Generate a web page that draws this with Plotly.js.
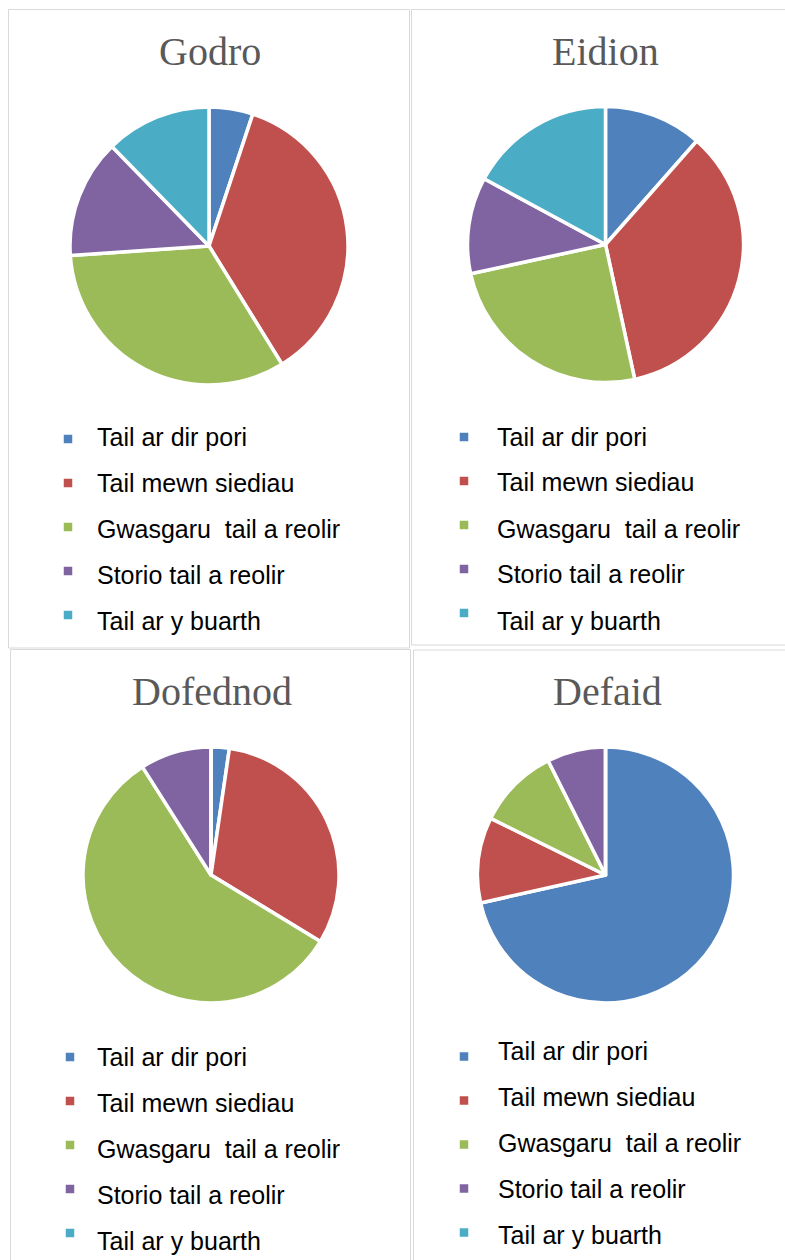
<!DOCTYPE html>
<html>
<head>
<meta charset="utf-8">
<script src="https://cdn.plot.ly/plotly-3.0.1.min.js"></script>
<style>
  html, body { margin: 0; padding: 0; background: #ffffff; }
  #chart { width: 785px; height: 1260px; }
</style>
</head>
<body>
<div id="chart"></div>
<script>
// ---- Data (shares in %) ----
const categories = ['Tail ar dir pori', 'Tail mewn siediau', 'Gwasgaru  tail a reolir', 'Storio tail a reolir', 'Tail ar y buarth'];
const chartTitles = ['Godro', 'Eidion', 'Dofednod', 'Defaid'];
const godro    = [5.1, 36.1, 32.7, 13.8, 12.3];
const eidion   = [11.5, 35.1, 25.0, 11.3, 17.1];
const dofednod = [2.3, 31.4, 57.3, 9.0, 0];
const defaid   = [71.5, 10.8, 10.3, 7.4, 0];
const sliceColors = ['#4F81BD', '#C0504D', '#9BBB59', '#8064A2', '#4BACC6'];

const seriesList = [godro, eidion, dofednod, defaid];

// ---- Layout geometry (pixels) ----
const W = 785, H = 1260;
const X = px => px / W;
const Y = py => 1 - py / H;

const panels = [
  { box: [8.5, 9.5, 409.5, 648],   pie: { cx: 209,   cy: 246,   r: 139 }, titleY: 51.5,  titleX: 210,
    leg: { mx: 68,  tx: 95,  ty0: 437,  my0: 439 } },
  { box: [411.5, 9.5, 790, 645],   pie: { cx: 605.5, cy: 244.5, r: 138 }, titleY: 51.5,  titleX: 605.5,
    leg: { mx: 464, tx: 495, ty0: 436.5, my0: 437 } },
  { box: [10.5, 649.5, 410.5, 1270], pie: { cx: 211,  cy: 875,   r: 128 }, titleY: 691.5, titleX: 212,
    leg: { mx: 70,  tx: 95,  ty0: 1057, my0: 1057 } },
  { box: [413.5, 650, 790, 1270],  pie: { cx: 605.5, cy: 875,   r: 128 }, titleY: 691.5, titleX: 607,
    leg: { mx: 464, tx: 496, ty0: 1051, my0: 1056.5 } }
];
const textStep = 46, markerStep = 44, markerSize = 8.5;

const data = [];
const shapes = [];
const annotations = [];

panels.forEach((p, i) => {
  // panel border
  shapes.push({
    type: 'rect', xref: 'paper', yref: 'paper',
    x0: X(p.box[0]), x1: X(p.box[2]), y0: Y(p.box[3]), y1: Y(p.box[1]),
    line: { color: '#d9d9d9', width: 1 }, fillcolor: 'rgba(0,0,0,0)', layer: 'below'
  });
  // pie
  const c = p.pie;
  data.push({
    type: 'pie',
    labels: categories,
    values: seriesList[i],
    sort: false,
    direction: 'clockwise',
    rotation: 0,
    textinfo: 'none',
    hoverinfo: 'label+percent',
    showlegend: false,
    marker: { colors: sliceColors, line: { color: '#ffffff', width: 3.5 } },
    domain: { x: [X(c.cx - c.r), X(c.cx + c.r)], y: [Y(c.cy + c.r), Y(c.cy - c.r)] }
  });
  // title
  annotations.push({
    text: chartTitles[i], xref: 'paper', yref: 'paper',
    x: X(p.titleX), y: Y(p.titleY), xanchor: 'center', yanchor: 'middle',
    showarrow: false,
    font: { family: 'Liberation Serif, Times New Roman, serif', size: 40, color: '#595959' }
  });
  // legend
  categories.forEach((lab, j) => {
    const my = p.leg.my0 + j * markerStep;
    shapes.push({
      type: 'rect', xref: 'paper', yref: 'paper',
      x0: X(p.leg.mx - markerSize / 2), x1: X(p.leg.mx + markerSize / 2),
      y0: Y(my + markerSize / 2), y1: Y(my - markerSize / 2),
      line: { width: 0 }, fillcolor: sliceColors[j]
    });
    annotations.push({
      text: lab, xref: 'paper', yref: 'paper',
      x: X(p.leg.tx), y: Y(p.leg.ty0 + j * textStep), xanchor: 'left', yanchor: 'middle',
      showarrow: false,
      font: { family: 'Liberation Sans, Arial, sans-serif', size: 25, color: '#000000' }
    });
  });
});

const layout = {
  width: W, height: H,
  margin: { l: 0, r: 0, t: 0, b: 0 },
  paper_bgcolor: '#ffffff',
  showlegend: false,
  shapes: shapes,
  annotations: annotations
};

Plotly.newPlot('chart', data, layout, { displayModeBar: false, staticPlot: true });
</script>
</body>
</html>
